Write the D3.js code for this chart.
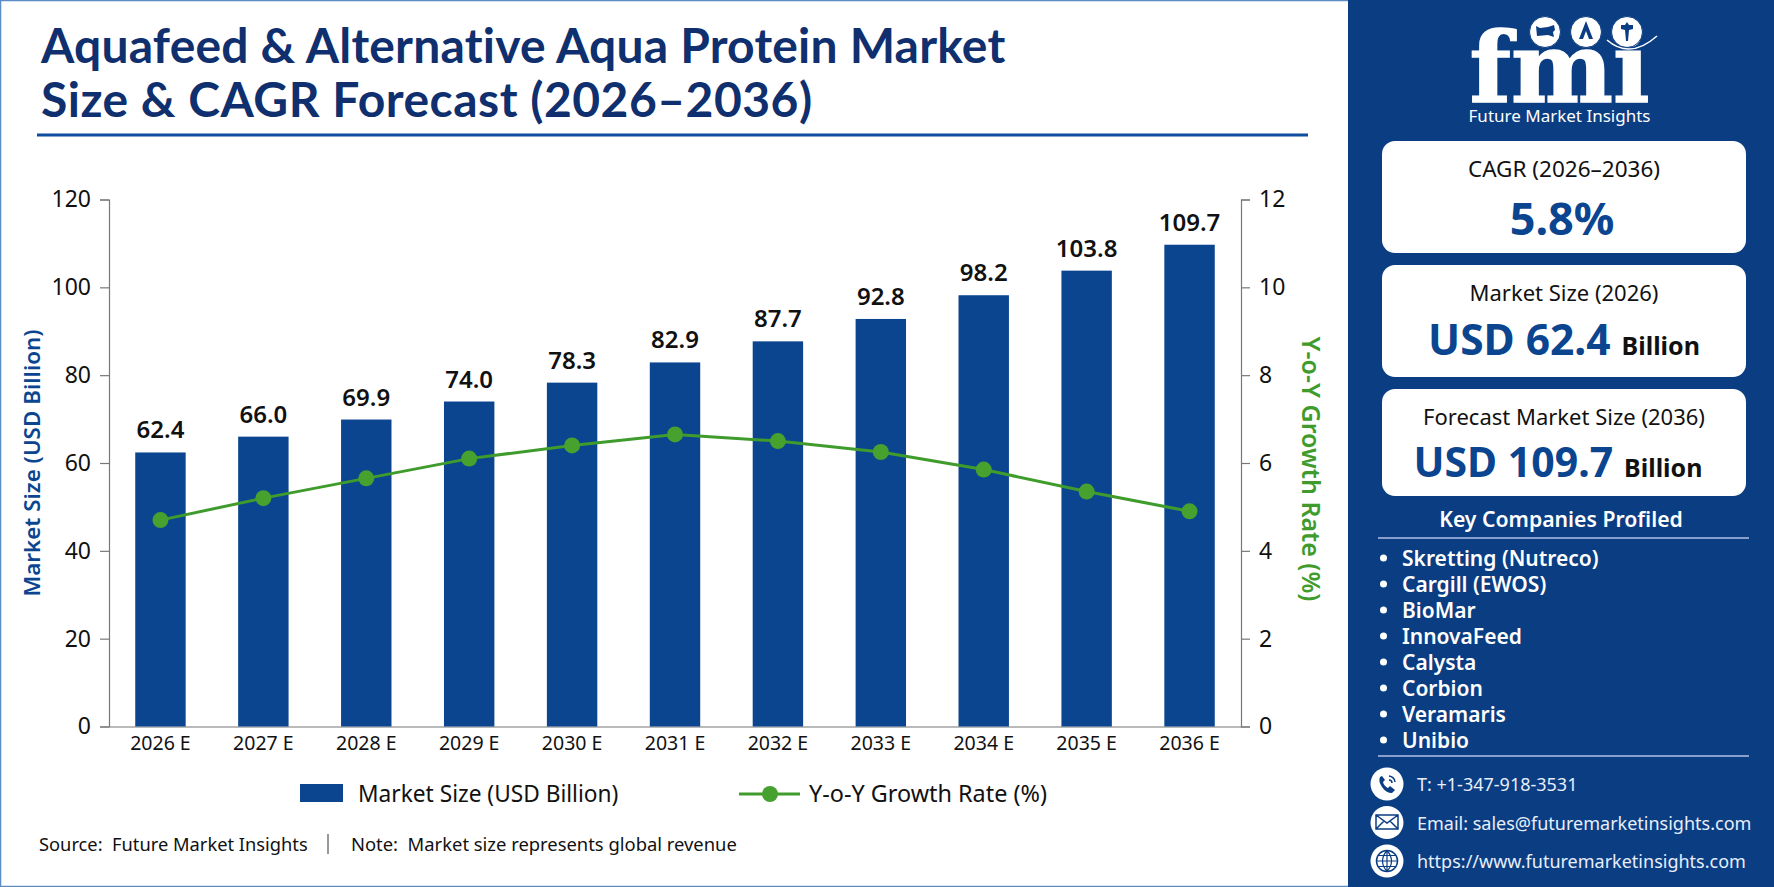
<!DOCTYPE html>
<html>
<head>
<meta charset="utf-8">
<script src="https://cdn.jsdelivr.net/npm/d3@7"></script>
<style>
  body { margin: 0; background: #fff; }
  text { font-family: "Noto Sans", sans-serif; white-space: pre; }
</style>
</head>
<body>
<div id="vis"></div>
<script>
const years = ['2026 E', '2027 E', '2028 E', '2029 E', '2030 E', '2031 E', '2032 E', '2033 E', '2034 E', '2035 E', '2036 E'];
const marketSize = [62.4, 66.0, 69.9, 74.0, 78.3, 82.9, 87.7, 92.8, 98.2, 103.8, 109.7];
const growthRate = [4.7, 5.2, 5.65, 6.1, 6.4, 6.65, 6.5, 6.25, 5.85, 5.35, 4.9];
const leftTicks = [0, 20, 40, 60, 80, 100, 120];
const rightTicks = [0, 2, 4, 6, 8, 10, 12];
const companies = ['Skretting (Nutreco)', 'Cargill (EWOS)', 'BioMar', 'InnovaFeed', 'Calysta', 'Corbion', 'Veramaris', 'Unibio'];
const contacts = ['T: +1-347-918-3531', 'Email: sales@futuremarketinsights.com', 'https://www.futuremarketinsights.com'];

const navy = '#0b4590', green = '#3f9c2c', dark = '#111', sideBlue = '#0a3d82';
const margin = { top: 199.5, right: 533, bottom: 160.5, left: 109 };
const width = 1774 - margin.left - margin.right;
const height = 887 - margin.top - margin.bottom;

const root = d3.select('#vis').append('svg')
  .attr('width', 1774).attr('height', 887)
  .style('display', 'block');

// page frame
root.append('rect').attr('x', 0.5).attr('y', 0.5).attr('width', 1773).attr('height', 886)
  .attr('fill', '#fff').attr('stroke', '#5b8cc4').attr('stroke-width', 1.5);

// title
const title = root.append('text').attr('fill', '#0f2f6e')
  .style('font-family', 'Lato, sans-serif').style('font-weight', 700).style('font-size', '48px');
title.append('tspan').attr('x', 41).attr('y', 63).style('letter-spacing', '0.2px').text('Aquafeed & Alternative Aqua Protein Market');
title.append('tspan').attr('x', 41).attr('y', 117).style('letter-spacing', '0.5px').text('Size & CAGR Forecast (2026–2036)');
root.append('line').attr('x1', 37).attr('x2', 1308).attr('y1', 135).attr('y2', 135)
  .attr('stroke', '#0d4c9e').attr('stroke-width', 3);

// chart
const svg = root.append('g').attr('transform', `translate(${margin.left},${margin.top})`);
const x = d3.scaleBand().domain(years).range([0, width]).paddingInner(0.51).paddingOuter(0.255);
const y = d3.scaleLinear().domain([0, 120]).range([height, 0]);
const y2 = d3.scaleLinear().domain([0, 12]).range([height, 0]);

const styleAxis = (g) => {
  g.selectAll('path,line').attr('stroke', '#777').attr('stroke-width', 1.2);
  g.selectAll('text').attr('fill', dark);
};

svg.append('g').call(d3.axisLeft(y).tickValues(leftTicks).tickSize(9).tickSizeOuter(9).tickPadding(9))
  .call(styleAxis).selectAll('text').style('font-size', '23px');
svg.append('g').attr('transform', `translate(${width},0)`)
  .call(d3.axisRight(y2).tickValues(rightTicks).tickSize(9).tickSizeOuter(9).tickPadding(9))
  .call(styleAxis).selectAll('text').style('font-size', '23px');
svg.append('g').attr('transform', `translate(0,${height})`)
  .call(d3.axisBottom(x).tickSize(0).tickPadding(10))
  .call(styleAxis).selectAll('text').style('font-size', '19.5px');

svg.selectAll('.bar').data(years).join('rect')
  .attr('class', 'bar')
  .attr('x', d => x(d))
  .attr('width', x.bandwidth())
  .attr('y', (d, i) => y(marketSize[i]))
  .attr('height', (d, i) => height - y(marketSize[i]))
  .attr('fill', navy);

svg.selectAll('.barLabel').data(years).join('text')
  .attr('class', 'barLabel')
  .attr('x', d => x(d) + x.bandwidth() / 2)
  .attr('y', (d, i) => y(marketSize[i]) - 14)
  .attr('text-anchor', 'middle')
  .attr('fill', dark)
  .style('font-size', '24px').style('font-weight', 600)
  .text((d, i) => marketSize[i].toFixed(1));

const line = d3.line()
  .x(d => x(d[0]) + x.bandwidth() / 2)
  .y(d => y2(d[1]));
const linePoints = d3.zip(years, growthRate);
svg.append('path').datum(linePoints).attr('d', line)
  .attr('fill', 'none').attr('stroke', green).attr('stroke-width', 3);
svg.selectAll('.pt').data(linePoints).join('circle')
  .attr('class', 'pt')
  .attr('cx', d => x(d[0]) + x.bandwidth() / 2)
  .attr('cy', d => y2(d[1]))
  .attr('r', 8).attr('fill', '#46a12f');

// axis titles
root.append('text').attr('transform', 'translate(40,463) rotate(-90)')
  .attr('text-anchor', 'middle').attr('fill', navy)
  .style('font-size', '22.4px').style('font-weight', 600)
  .text('Market Size (USD Billion)');
root.append('text').attr('transform', 'translate(1302,469) rotate(90)')
  .attr('text-anchor', 'middle').attr('fill', green)
  .style('font-size', '25px').style('font-weight', 600)
  .text('Y-o-Y Growth Rate (%)');

// legend
root.append('rect').attr('x', 300).attr('y', 784).attr('width', 43).attr('height', 18).attr('fill', navy);
root.append('text').attr('x', 358).attr('y', 802).attr('fill', dark).style('font-size', '22.7px').text('Market Size (USD Billion)');
root.append('line').attr('x1', 739).attr('x2', 800).attr('y1', 794).attr('y2', 794).attr('stroke', green).attr('stroke-width', 3);
root.append('circle').attr('cx', 770).attr('cy', 794).attr('r', 8).attr('fill', '#46a12f');
root.append('text').attr('x', 809).attr('y', 802).attr('fill', dark).style('font-size', '23.4px').text('Y-o-Y Growth Rate (%)');

// source
root.append('text').attr('x', 39).attr('y', 851).attr('fill', dark).style('font-size', '18.3px').text('Source:  Future Market Insights');
root.append('line').attr('x1', 328).attr('x2', 328).attr('y1', 834).attr('y2', 854).attr('stroke', '#333');
root.append('text').attr('x', 351).attr('y', 851).attr('fill', dark).style('font-size', '18.4px').text('Note:  Market size represents global revenue');

// sidebar
const side = root.append('g');
side.append('rect').attr('x', 1348).attr('y', 0).attr('width', 426).attr('height', 887).attr('fill', sideBlue);

// logo
side.append('text').attr('x', 1559.5).attr('y', 102).attr('text-anchor', 'middle').attr('fill', '#fff')
  .attr('stroke', '#fff').attr('stroke-width', 1.5)
  .style('font-family', '"DejaVu Serif", serif').style('font-weight', 700).style('font-size', '98px')
  .attr('textLength', 180).attr('lengthAdjust', 'spacingAndGlyphs').text('fmi');
[1545, 1586, 1627].forEach(cx => {
  side.append('circle').attr('cx', cx).attr('cy', 32).attr('r', 15.5).attr('fill', '#fff')
    .attr('stroke', sideBlue).attr('stroke-width', 1);
});
side.append('path').attr('d', 'M1536,26l4,2l8,-1l6,-2l1,5l-2,2l1,5l-6,-2l-11,1z').attr('fill', sideBlue);
side.append('path').attr('d', 'M1586,21l-7,18h4l3,-8l3,8h4z').attr('fill', sideBlue);
side.append('path').attr('d', 'M1627,22l2,3h4v4l-4,1l-1,11h-2l-1,-11l-4,-1v-4h4z').attr('fill', sideBlue);
side.append('path').attr('d', 'M1607,40Q1630,60 1657,36').attr('fill', 'none').attr('stroke', '#fff').attr('stroke-width', 1.5);
side.append('text').attr('x', 1559.5).attr('y', 122).attr('text-anchor', 'middle').attr('fill', '#fff')
  .style('font-size', '17px').text('Future Market Insights');

// cards
function card(yTop, h, label, labelSize, value, valueSize, valueX, valueY, unit) {
  const c = side.append('g');
  c.append('rect').attr('x', 1382).attr('y', yTop).attr('width', 364).attr('height', h).attr('rx', 13).attr('fill', '#fff');
  c.append('text').attr('x', 1564).attr('y', yTop + 36).attr('text-anchor', 'middle').attr('fill', dark)
    .style('font-size', labelSize + 'px').text(label);
  const t = c.append('text').attr('x', valueX).attr('y', yTop + valueY).attr('text-anchor', 'middle');
  t.append('tspan').attr('fill', navy).style('font-size', valueSize + 'px').style('font-weight', 700).text(value);
  if (unit) t.append('tspan').attr('fill', dark).attr('dx', 11).style('font-size', '25px').style('font-weight', 700).text(unit);
}
card(141, 112, 'CAGR (2026–2036)', 22.5, '5.8%', 45, 1562, 94);
card(265, 112, 'Market Size (2026)', 22, 'USD 62.4', 42.5, 1564, 90, 'Billion');
card(389, 107, 'Forecast Market Size (2036)', 22, 'USD 109.7', 41, 1558, 88, 'Billion');

// companies
side.append('text').attr('x', 1561).attr('y', 527).attr('text-anchor', 'middle').attr('fill', '#fff')
  .style('font-size', '21.2px').style('font-weight', 600).text('Key Companies Profiled');
[538, 756].forEach(ly => side.append('line').attr('x1', 1378).attr('x2', 1749).attr('y1', ly).attr('y2', ly)
  .attr('stroke', '#b3bfe6').attr('stroke-width', 1.5));
const rowY = d3.scalePoint().domain(companies).range([558, 740]);
side.selectAll('.bullet').data(companies).join('circle').attr('class', 'bullet')
  .attr('cx', 1383.5).attr('cy', d => rowY(d)).attr('r', 3.5).attr('fill', '#fff');
side.selectAll('.company').data(companies).join('text').attr('class', 'company')
  .attr('x', 1402).attr('y', d => rowY(d) + 8).attr('fill', '#fff')
  .style('font-size', '21px').style('font-weight', 600).text(d => d);

// contacts
const contactY = d3.scalePoint().domain(contacts).range([784, 861]);
side.selectAll('.cIcon').data(contacts).join('circle').attr('class', 'cIcon')
  .attr('cx', 1387).attr('cy', d => contactY(d)).attr('r', 16.5).attr('fill', '#fff');
side.selectAll('.contact').data(contacts).join('text').attr('class', 'contact')
  .attr('x', 1417).attr('y', d => contactY(d) + 7).attr('fill', '#e8eefa')
  .style('font-size', '18px').text(d => d);

// icons
side.append('path').attr('d', 'M1380,777q-2,4 2,10t10,6l3,-3l-5,-4l-2,2q-4,-2 -5,-6l2,-2l-3,-4z').attr('fill', sideBlue);
side.append('path').attr('d', 'M1389,776a7,7 0 0 1 6,6 M1389,780a3,3 0 0 1 3,3').attr('fill', 'none').attr('stroke', sideBlue).attr('stroke-width', 1.5);
side.append('path').attr('d', 'M1376,815h22v14h-22z M1376,815l11,8l11,-8 M1376,829l8,-8 M1398,829l-8,-8').attr('fill', 'none').attr('stroke', sideBlue).attr('stroke-width', 1.5);
side.append('circle').attr('cx', 1387).attr('cy', 861).attr('r', 10.5).attr('fill', 'none').attr('stroke', sideBlue).attr('stroke-width', 1.5);
side.append('path').attr('d', 'M1376.5,861h21 M1387,850.5v21 M1378,855.5h18 M1378,866.5h18 M1387,850.5q-9,10.5 0,21 M1387,850.5q9,10.5 0,21').attr('fill', 'none').attr('stroke', sideBlue).attr('stroke-width', 1.2);
</script>
</body>
</html>
